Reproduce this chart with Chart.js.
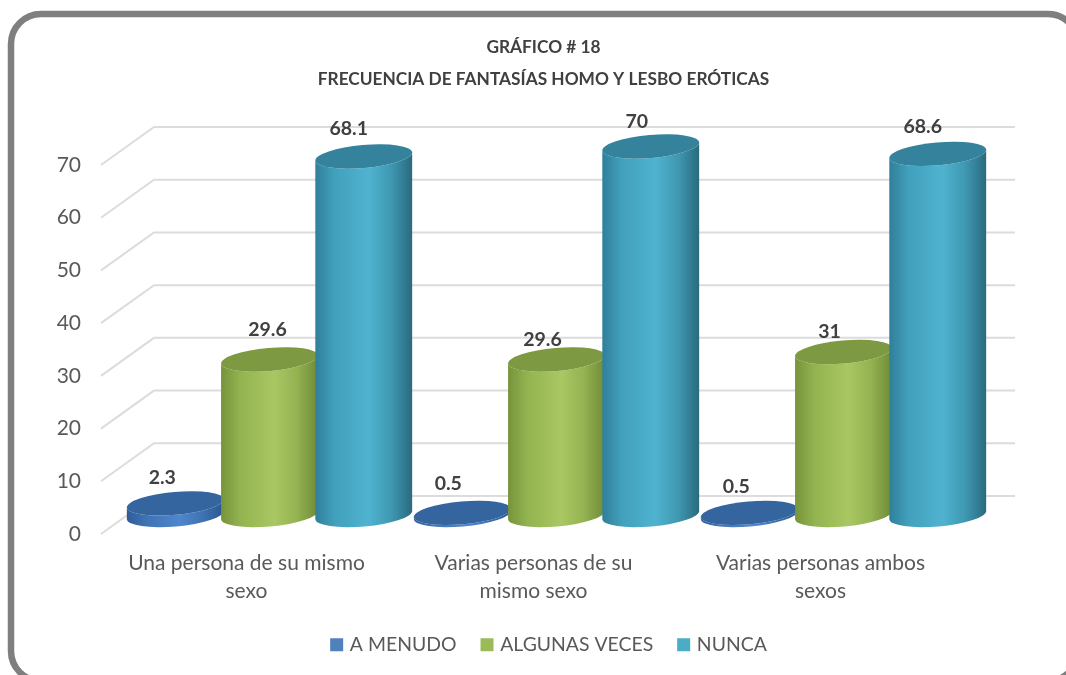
<!DOCTYPE html>
<html><head><meta charset="utf-8">
<style>html,body{margin:0;padding:0;background:#fff}canvas{display:block}</style>
<script src="https://cdn.jsdelivr.net/npm/chart.js@4"></script></head>
<body><canvas id="c" width="1066" height="675"></canvas>
<script>
const categories = [["Una persona de su mismo","sexo"],["Varias personas de su","mismo sexo"],["Varias personas ambos","sexos"]];
const aMenudo = [2.3, 0.5, 0.5];
const algunasVeces = [29.6, 29.6, 31];
const nunca = [68.1, 70, 68.6];
const seriesNames = ["A MENUDO","ALGUNAS VECES","NUNCA"];
const titleLines = ["GRÁFICO # 18","FRECUENCIA DE FANTASÍAS HOMO Y LESBO ERÓTICAS"];

const FONT = "Lato, Carlito, Calibri, sans-serif";
const DEPTH = {dx:51, dy:38};
const BAR = {dx:23, dy:18.5, baseDy:19, tilt:-5*Math.PI/180, ry:11.5};
const PAL = [
  {legend:"#4f81bd", top:"#34659f", stops:["#2f5c98","#3f73b4","#4f86cc","#3f72b2","#2a568f"]},
  {legend:"#9bbb59", top:"#7d9a42", stops:["#76933a","#93b350","#a9c863","#94b351","#6f8b36"]},
  {legend:"#4bacc6", top:"#35829c", stops:["#2f7f99","#42a0bc","#4fb3cf","#3f98b2","#2a6a7e"]}
];
const LABEL_OFF = {dx:-14, dy:-25};
const NUDGE = {"1:0":[12,-5],"1:1":[0,5],"1:2":[0,5],"2:0":[-1,-3],"2:2":[-1,-2],"0:0":[1,-1],"0:1":[0,-4],"0:2":[1,-1]};

const cyl = {
  id:"cyl",
  beforeDraw(ch){
    const c = ch.ctx; c.save();
    c.strokeStyle="#7f7f7f"; c.lineWidth=6.5;
    c.beginPath(); c.roundRect(11,14,1067,667,30); c.stroke();
    c.restore();
  },
  afterLayout(ch){
    const t = ch.titleBlock; t.left += 61.5; t.right += 61.5;
    const l = ch.legend; const w=l.right-l.left;
    l.left = 68; l.right = 68+w; const h=l.bottom-l.top; l.top = 608; l.bottom = 608+h;
  },
  beforeDatasetsDraw(ch){
    const c = ch.ctx, y = ch.scales.y, a = ch.chartArea;
    c.save(); c.strokeStyle="#dcdcdc"; c.lineWidth=2;
    y.ticks.forEach(t=>{
      const py = y.getPixelForValue(t.value);
      c.beginPath(); c.moveTo(a.left-2,py); c.lineTo(a.left-2+DEPTH.dx+2,py-DEPTH.dy);
      c.lineTo(a.right+DEPTH.dx,py-DEPTH.dy); c.stroke();
    });
    ch.data.datasets.forEach((ds,di)=>{
      ch.getDatasetMeta(di).data.forEach(el=>{
        const cx=el.x+BAR.dx, rx=el.width/2+1.5, top=el.y-BAR.dy, bot=el.base-BAR.baseDy;
        const g=c.createLinearGradient(cx-rx,0,cx+rx,0);
        const st=PAL[di].stops; [0,.2,.55,.78,1].forEach((p,i)=>g.addColorStop(p,st[i]));
        c.fillStyle=g; c.beginPath();
        c.ellipse(cx,bot,rx,BAR.ry,BAR.tilt,Math.PI,0,true);
        c.ellipse(cx,top,rx,BAR.ry,BAR.tilt,0,Math.PI,false);
        c.closePath(); c.fill();
        c.fillStyle=PAL[di].top; c.beginPath();
        c.ellipse(cx,top,rx,BAR.ry,BAR.tilt,0,Math.PI*2); c.fill();
      });
    });
    c.restore();
    return false;
  },
  afterDraw(ch){
    const c=ch.ctx; c.save();
    c.font="bold 19.5px "+FONT; c.fillStyle="#404040"; c.textAlign="center"; c.textBaseline="middle";
    ch.data.datasets.forEach((ds,di)=>{
      ch.getDatasetMeta(di).data.forEach((el,i)=>{
        const n=NUDGE[di+":"+i]||[0,0];
        c.fillText(String(ds.data[i]),el.x+BAR.dx+LABEL_OFF.dx+n[0],el.y-BAR.dy+LABEL_OFF.dy+n[1]);
      });
    });
    c.restore();
  }
};

const mk=(i,d)=>({label:seriesNames[i],data:d,backgroundColor:PAL[i].legend,borderColor:PAL[i].legend,borderWidth:6});
new Chart(document.getElementById("c"),{
  type:"bar",
  data:{labels:categories,datasets:[mk(0,aMenudo),mk(1,algunasVeces),mk(2,nunca)]},
  plugins:[cyl],
  options:{
    responsive:false,animation:false,
    layout:{padding:{left:0,right:102,top:0,bottom:0}},
    datasets:{bar:{categoryPercentage:.985,barPercentage:1}},
    scales:{
      x:{grid:{display:false},border:{display:false},
         ticks:{color:"#595959",font:{family:FONT,size:21,lineHeight:1.333},padding:7,maxRotation:0,autoSkip:false},
         afterFit(s){s.height=141-(s.chart.legend?s.chart.legend.height:0)}},
      y:{min:0,max:70,grid:{display:false},border:{display:false},
         ticks:{stepSize:10,color:"#595959",font:{family:FONT,size:21},padding:14},
         afterFit(s){s.width=103}}
    },
    plugins:{
      tooltip:{enabled:false},
      title:{display:true,text:titleLines,color:"#404040",font:{family:FONT,size:17.3,weight:"bold",lineHeight:1.82},padding:{top:32,bottom:70}},
      legend:{position:"bottom",labels:{color:"#595959",font:{family:FONT,size:19.4},boxWidth:7,boxHeight:7,padding:27}}
    }
  }
});
</script></body></html>
